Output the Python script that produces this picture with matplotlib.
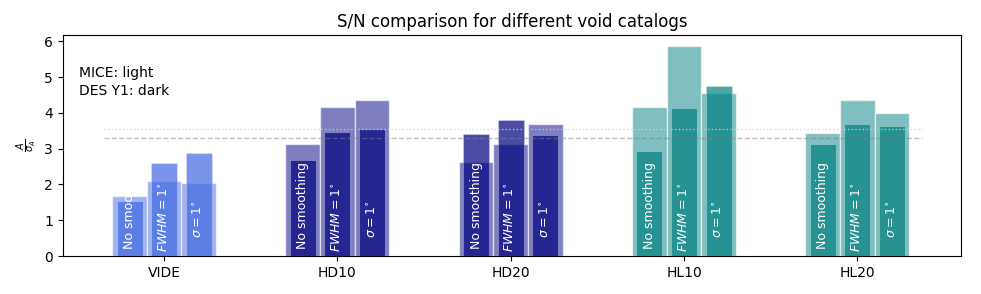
import numpy as np
import matplotlib
matplotlib.use("Agg")
import matplotlib.pyplot as plt
from matplotlib.colors import to_rgba

## Data
catalogs = ['VIDE', 'HD10', 'HD20', 'HL10', 'HL20']
colors = ['royalblue', 'navy', 'navy', 'teal', 'teal']
labels = ['No smoothing', r'$FWHM = 1^{\circ}$', r'$\sigma = 1^{\circ}$']
label_y = [0.2, 0.1, 0.5]            # where each label starts

# MICE (light, wide bars): no smoothing, FWHM, sigma
sn_mice = [[1.69, 2.11, 2.04],
           [3.13, 4.16, 4.35],
           [2.63, 3.13, 3.70],
           [4.16, 5.88, 4.55],
           [3.44, 4.35, 4.00]]
# DES Y1 (dark, narrow bars)
sn_des = [[1.54, 2.61, 2.88],
          [2.68, 3.46, 3.54],
          [3.40, 3.80, 3.39],
          [2.94, 4.13, 4.74],
          [3.14, 3.70, 3.62]]

ref_dashed = 3.3
ref_dotted = 3.55

## Plot
fig, ax = plt.subplots(figsize=(9.81, 2.94), dpi=100)
fig.subplots_adjust(left=0.064, right=0.98, top=0.881, bottom=0.129)

x = np.arange(len(catalogs))
offsets = [-0.2, 0.0, 0.2]

for i in range(len(catalogs)):
    for j in range(3):
        xpos = x[i] + offsets[j]
        bm = ax.bar(xpos, sn_mice[i][j], width=0.2,
                    facecolor=to_rgba(colors[i], 0.5),
                    edgecolor=(1, 1, 1, 0.6), linewidth=1)[0]
        bd = ax.bar(xpos, sn_des[i][j], width=0.15,
                    facecolor=to_rgba(colors[i], 0.7),
                    edgecolor=(1, 1, 1, 0.25), linewidth=0.8)[0]
        tall = bm if sn_mice[i][j] >= sn_des[i][j] else bd
        t = ax.text(xpos, label_y[j], labels[j], rotation=90, color='white',
                    ha='center', va='bottom', fontsize=9)
        t.set_clip_path(tall)

ax.hlines(ref_dashed, -0.35, 4.37, colors='gray', linestyles='--',
          linewidth=1, alpha=0.5, zorder=3)
ax.hlines(ref_dotted, -0.35, 4.37, colors='lightgray', linestyles=':',
          linewidth=1, alpha=0.8, zorder=3)

ax.text(0.018, 0.86, 'MICE: light\nDES Y1: dark', transform=ax.transAxes,
        va='top', ha='left', fontsize=10, linespacing=1.4)

ax.set_xticks(x)
ax.set_xticklabels(catalogs)
ax.set_xlim(-0.585, 4.60)
ax.set_ylabel(r'$\frac{A}{\sigma_A}$')
ax.set_title('S/N comparison for different void catalogs')

fig.savefig('out.png', dpi=100)
